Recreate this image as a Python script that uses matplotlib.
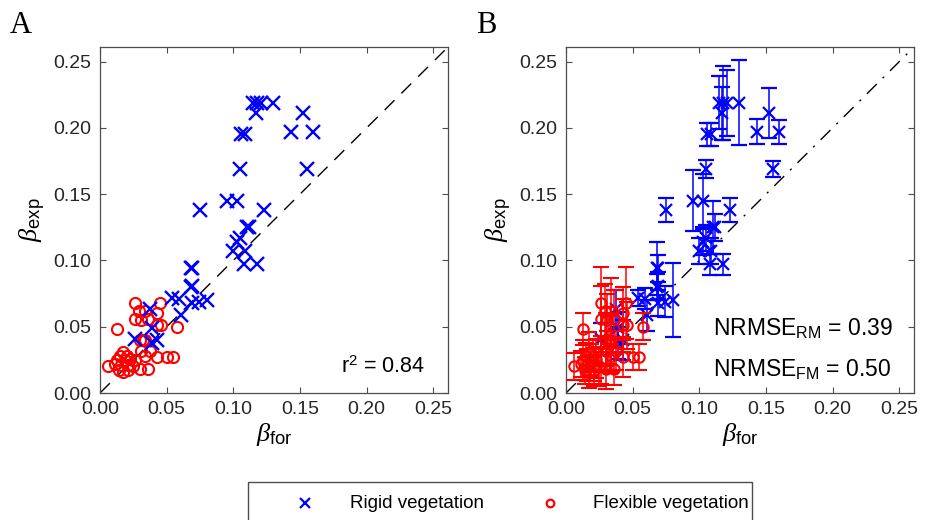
import matplotlib
matplotlib.use("Agg")
import matplotlib.pyplot as plt
from matplotlib.lines import Line2D
from matplotlib.patches import Rectangle

plt.rcParams['font.family'] = ['Liberation Sans', 'DejaVu Sans']
plt.rcParams['mathtext.fontset'] = 'custom'
plt.rcParams['mathtext.it'] = 'Liberation Serif:italic'
plt.rcParams['mathtext.rm'] = 'Liberation Sans'
plt.rcParams['mathtext.sf'] = 'Liberation Sans'

# Rigid vegetation: forecast vs experimental beta, with experimental uncertainty
rigid_for = [0.115, 0.118, 0.121, 0.130, 0.117, 0.152, 0.106, 0.109, 0.143, 0.160,
             0.105, 0.155, 0.095, 0.103, 0.075, 0.123, 0.110, 0.112, 0.105, 0.103,
             0.100, 0.109, 0.108, 0.118, 0.068, 0.069, 0.068, 0.069, 0.054, 0.059,
             0.069, 0.074, 0.080, 0.061, 0.0375, 0.039, 0.026, 0.0425, 0.039]
rigid_exp = [0.219, 0.219, 0.219, 0.219, 0.211, 0.211, 0.195, 0.195, 0.197, 0.197,
             0.169, 0.169, 0.145, 0.145, 0.138, 0.138, 0.125, 0.125, 0.117, 0.114,
             0.107, 0.107, 0.097, 0.097, 0.094, 0.094, 0.080, 0.081, 0.072, 0.071,
             0.068, 0.069, 0.070, 0.0585, 0.063, 0.049, 0.041, 0.040, 0.0375]
rigid_err = [0.020, 0.028, 0.025, 0.032, 0.020, 0.019, 0.009, 0.009, 0.0095, 0.009,
             0.007, 0.006, 0.023, 0.020, 0.009, 0.009, 0.020, 0.010, 0.010, 0.010,
             0.010, 0.010, 0.008, 0.008, 0.020, 0.010, 0.010, 0.010, 0.006, 0.008,
             0.010, 0.012, 0.028, 0.012, 0.015, 0.012, 0.012, 0.015, 0.012]

# Flexible vegetation
flex_for = [0.026, 0.045, 0.029, 0.034, 0.0425, 0.026, 0.031, 0.036, 0.0125, 0.0425,
            0.046, 0.0575, 0.030, 0.0325, 0.034, 0.031, 0.0375, 0.034, 0.0425, 0.050,
            0.055, 0.0175, 0.0125, 0.019, 0.0225, 0.026, 0.011, 0.016, 0.021, 0.006,
            0.025, 0.014, 0.0175, 0.021, 0.030, 0.036, 0.020, 0.015]
flex_exp = [0.068, 0.068, 0.062, 0.062, 0.060, 0.056, 0.055, 0.056, 0.048, 0.051,
            0.051, 0.050, 0.040, 0.040, 0.040, 0.032, 0.032, 0.028, 0.027, 0.027,
            0.027, 0.031, 0.025, 0.025, 0.026, 0.025, 0.022, 0.021, 0.021, 0.020,
            0.020, 0.017, 0.016, 0.017, 0.018, 0.018, 0.028, 0.028]
flex_err = [0.027, 0.027, 0.020, 0.025, 0.020, 0.025, 0.020, 0.022, 0.012, 0.020,
            0.018, 0.010, 0.020, 0.018, 0.025, 0.015, 0.015, 0.012, 0.015, 0.010,
            0.010, 0.015, 0.015, 0.012, 0.015, 0.018, 0.010, 0.012, 0.012, 0.010,
            0.015, 0.010, 0.012, 0.012, 0.015, 0.012, 0.012, 0.010]

ticks = [0.00, 0.05, 0.10, 0.15, 0.20, 0.25]
tick_labels = ['0.00', '0.05', '0.10', '0.15', '0.20', '0.25']
legend_labels = ['Rigid vegetation', 'Flexible vegetation']
lim = 0.261

BLUE = '#0000ff'
RED = '#ff0000'
FRAME = '#4d4d4d'

W, H = 925, 520
fig = plt.figure(figsize=(9.25, 5.2), dpi=100)
axA = fig.add_axes([100/W, 1-393/H, 348/W, 346/H])
axB = fig.add_axes([566/W, 1-393/H, 348/W, 346/H])


def style(ax):
    ax.set_xlim(0, lim)
    ax.set_ylim(0, lim)
    ax.set_xticks(ticks)
    ax.set_xticklabels(tick_labels)
    ax.set_yticks(ticks)
    ax.set_yticklabels(tick_labels)
    ax.tick_params(direction='in', top=True, right=True, length=4, width=0.8,
                   color=FRAME, labelsize=14, labelcolor='#262626', pad=6)
    for s in ax.spines.values():
        s.set_color(FRAME)
        s.set_linewidth(0.9)
    ax.set_xlabel(r'$\beta_{\mathrm{for}}$', fontsize=19, labelpad=2)
    ax.set_ylabel(r'$\beta_{\mathrm{exp}}$', fontsize=19, labelpad=4)


# Panel A
axA.plot([0, lim], [0, lim], color='black', lw=1.0, dashes=(10, 7), zorder=1)
axA.plot(flex_for, flex_exp, 'o', ms=8, mfc='none', mec=RED, mew=1.5, zorder=2)
axA.plot(rigid_for, rigid_exp, 'x', ms=9.5, mec=BLUE, mew=1.7, zorder=3)
style(axA)
axA.text(0.244, 0.015, r'r$^{2}$ = 0.84', ha='right', va='baseline', fontsize=15.5)

# Panel B
axB.plot([0, lim], [0, lim], color='black', lw=1.0, dashes=(10, 6, 1.5, 6), zorder=1)
axB.errorbar(rigid_for, rigid_exp, yerr=rigid_err, fmt='x', ms=9, mec=BLUE, mew=1.6,
             ecolor=BLUE, elinewidth=1.1, capsize=5.5, capthick=1.5, zorder=2)
axB.errorbar(flex_for, flex_exp, yerr=flex_err, fmt='o', ms=7.5, mfc='none', mec=RED,
             mew=1.5, ecolor=RED, elinewidth=1.1, capsize=5.5, capthick=1.5, zorder=3)
style(axB)
axB.text(0.110, 0.0435, r'NRMSE$_{\mathrm{RM}}$ = 0.39', ha='left', va='baseline', fontsize=16.5)
axB.text(0.110, 0.012, r'NRMSE$_{\mathrm{FM}}$ = 0.50', ha='left', va='baseline', fontsize=16.5)

# Panel letters
fig.text(10/W, 1-33/H, 'A', family='Liberation Serif', fontsize=22, va='baseline')
fig.text(476/W, 1-33/H, 'B', family='Liberation Serif', fontsize=22, va='baseline')

# Legend (drawn as a figure-level box)
fig.patches.append(Rectangle((248/W, 1-528/H), 504/W, 46/H, transform=fig.transFigure,
                             facecolor='white', edgecolor=FRAME, linewidth=1.0))
fig.add_artist(Line2D([305/W], [1-503/H], transform=fig.transFigure, ls='none',
                      marker='x', ms=7, mec=BLUE, mew=1.6))
fig.add_artist(Line2D([550/W], [1-503/H], transform=fig.transFigure, ls='none',
                      marker='o', ms=5.5, mfc='none', mec=RED, mew=1.6))
fig.text(350/W, 1-503/H, legend_labels[0], fontsize=13.5, va='center', ha='left')
fig.text(593/W, 1-503/H, legend_labels[1], fontsize=13.5, va='center', ha='left')

fig.savefig('out.png', dpi=100)
